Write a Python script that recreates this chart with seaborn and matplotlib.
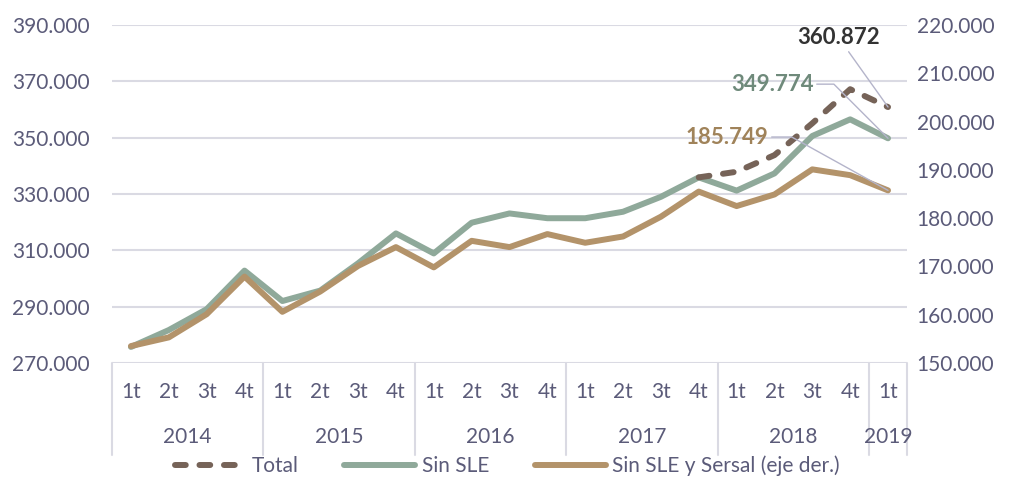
import numpy as np
import pandas as pd
import matplotlib
matplotlib.use("Agg")
import matplotlib.pyplot as plt
from matplotlib.ticker import FuncFormatter
import seaborn as sns

# Quarterly series
quarters = ["1t", "2t", "3t", "4t"] * 5 + ["1t"]
years = ["2014", "2015", "2016", "2017", "2018", "2019"]
year_counts = [4, 4, 4, 4, 4, 1]

sin_sle = [275700, 281700, 289100, 302800, 292000, 295700, 305400, 316000,
           308900, 319800, 323100, 321400, 321400, 323700, 329000, 335900,
           331200, 337300, 350600, 356500, 349774]
total = [np.nan] * 15 + [335900, 337900, 343800, 355100, 367200, 360872]
sersal = [153500, 155300, 160100, 167900, 160600, 164800, 170100, 174000,
          169800, 175300, 174000, 176700, 174900, 176200, 180300, 185500,
          182500, 184900, 190100, 188900, 185749]

BROWN = "#766358"
GREEN = "#8FA99A"
TAN = "#B3936A"
GRID = "#DADAE3"
TICK = "#5B5B79"
LEADER = "#B4B4CA"
LW = 4.3

sns.set_style("white")
plt.rcParams['font.family'] = ['Lato', 'DejaVu Sans']

df = pd.DataFrame({"idx": np.arange(len(quarters)), "total": total,
                   "sin_sle": sin_sle, "sersal": sersal})

fig = plt.figure(figsize=(10.12, 4.79), dpi=100)
ax = fig.add_axes([0.1107, 0.2422, 0.7855, 0.7056])
ax2 = ax.twinx()

sns.lineplot(data=df, x="idx", y="sin_sle", ax=ax, color=GREEN, lw=LW,
             label="Sin SLE", legend=False)
sns.lineplot(data=df, x="idx", y="total", ax=ax, color=BROWN, lw=LW,
             linestyle=(0, (1.8, 2.3)), dash_capstyle="round",
             label="Total", legend=False)
sns.lineplot(data=df, x="idx", y="sersal", ax=ax2, color=TAN, lw=LW,
             label="Sin SLE y Sersal (eje der.)", legend=False)

fmt = FuncFormatter(lambda v, p: f"{v:,.0f}".replace(",", "."))

ax.set_xlim(-0.5, len(quarters) - 0.5)
ax.set_ylim(270000, 390000)
ax.set_yticks(range(270000, 390001, 20000))
ax.yaxis.set_major_formatter(fmt)
ax2.set_ylim(150000, 220000)
ax2.set_yticks(range(150000, 220001, 10000))
ax2.yaxis.set_major_formatter(fmt)

ax.yaxis.grid(True, color=GRID, lw=1.5)
ax.set_axisbelow(True)
for a in (ax, ax2):
    for s in a.spines.values():
        s.set_visible(False)
    a.set_xlabel("")
    a.set_ylabel("")

ax.set_xticks(df["idx"])
ax.set_xticklabels(quarters)
ax.tick_params(axis="x", length=0, pad=14, labelsize=15, labelcolor=TICK)
ax.tick_params(axis="y", length=0, pad=16, labelsize=15, labelcolor=TICK)
ax2.tick_params(axis="y", length=0, pad=7, labelsize=15, labelcolor=TICK)

# Multi-level category axis: year labels and separators
xt = ax.get_xaxis_transform()
start = 0
bounds = [-0.5]
for yr, n in zip(years, year_counts):
    ax.text(start + (n - 1) / 2, -0.219, yr, transform=xt, ha="center",
            va="center", fontsize=15, color=TICK)
    start += n
    bounds.append(start - 0.5)
for b in bounds:
    ax.plot([b, b], [0, -0.272], transform=xt, color=GRID, lw=1.5,
            clip_on=False)

# Data labels with leader lines
last = len(quarters) - 1
lbl = lambda v: f"{v:,.0f}".replace(",", ".")
ax.annotate(lbl(total[-1]), xy=(last, total[-1]), xytext=(18.7, 385400),
            ha="center", va="center", fontsize=16, fontweight="bold",
            color="#333333",
            arrowprops=dict(arrowstyle="-", color=LEADER, lw=1,
                            shrinkA=0, shrinkB=0))
ax.annotate(lbl(sin_sle[-1]), xy=(last, sin_sle[-1]), xytext=(18.03, 369000),
            ha="right", va="center", fontsize=16, fontweight="bold",
            color="#6F8A7B",
            arrowprops=dict(arrowstyle="-", color=LEADER, lw=1,
                            shrinkA=0, shrinkB=0,
                            connectionstyle="angle,angleA=0,angleB=-45,rad=0"))
ax2.annotate(lbl(sersal[-1]), xy=(last, sersal[-1]), xytext=(16.84, 196800),
             ha="right", va="center", fontsize=16, fontweight="bold",
             color="#A0835A",
             arrowprops=dict(arrowstyle="-", color=LEADER, lw=1,
                             shrinkA=0, shrinkB=0,
                             connectionstyle="angle,angleA=0,angleB=-29,rad=0"))

# Legend
h1, l1 = ax.get_legend_handles_labels()
h2, l2 = ax2.get_legend_handles_labels()
hd = dict(zip(l1 + l2, h1 + h2))
order = ["Total", "Sin SLE", "Sin SLE y Sersal (eje der.)"]
leg = fig.legend([hd[k] for k in order], order, loc="center",
                 bbox_to_anchor=(0.501, 1 - 466 / 479), ncol=3, frameon=False,
                 fontsize=15, handlelength=3.4, columnspacing=2.2,
                 handletextpad=0.3)
for t in leg.get_texts():
    t.set_color(TICK)

fig.savefig("out.png", dpi=100)
